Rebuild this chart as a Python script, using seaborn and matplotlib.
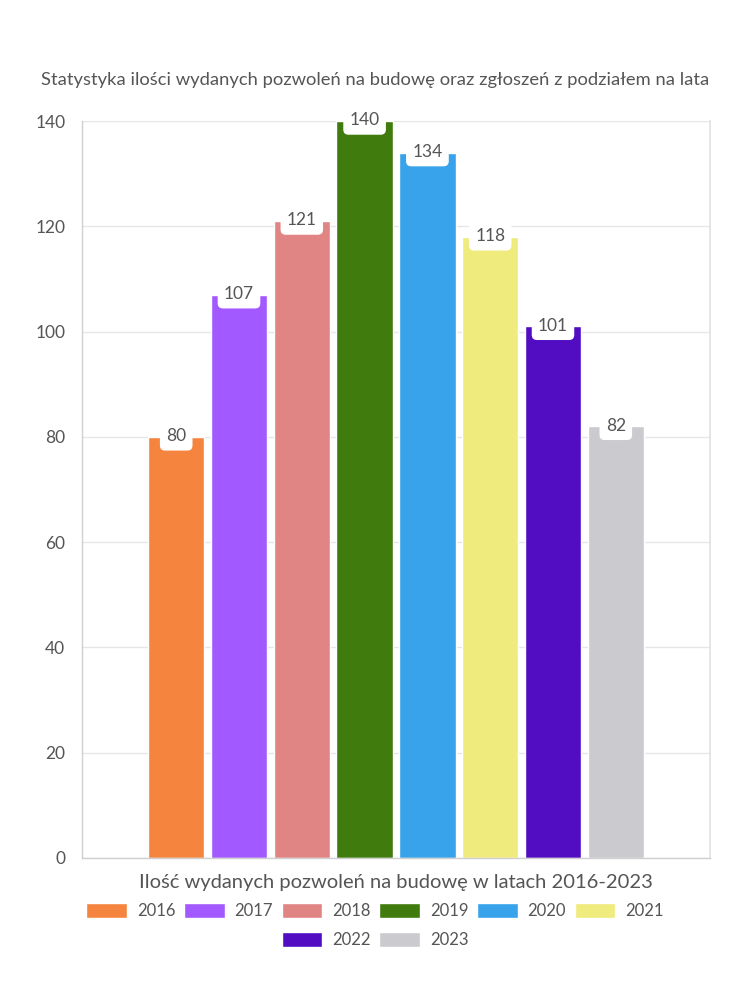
import matplotlib
matplotlib.use("Agg")
import matplotlib.pyplot as plt
import seaborn as sns
import pandas as pd

years = ["2016", "2017", "2018", "2019", "2020", "2021", "2022", "2023"]
values = [80, 107, 121, 140, 134, 118, 101, 82]
colors = ["#F5843F", "#A259FF", "#E08484", "#3F7C0D", "#38A3EB", "#F0EB7D", "#520DC2", "#CBCBCF"]
category = "Ilość wydanych pozwoleń na budowę w latach 2016-2023"
title = "Statystyka ilości wydanych pozwoleń na budowę oraz zgłoszeń z podziałem na lata"
yticks = [0, 20, 40, 60, 80, 100, 120, 140]

sns.set_theme(style="white")
plt.rcParams["font.family"] = ["Lato", "DejaVu Sans"]
TXT = "#555555"

df = pd.DataFrame({"cat": [category] * len(years), "year": years, "value": values})

fig = plt.figure(figsize=(7.5, 10), dpi=100)
ax = fig.add_axes([82 / 750, 1 - 858 / 1000, (710 - 82) / 750, (858 - 121) / 1000])

sns.barplot(data=df, x="cat", y="value", hue="year", hue_order=years,
            palette=dict(zip(years, colors)), width=0.8, gap=0.1,
            saturation=1, ax=ax, legend=True)

ax.set_ylim(0, 140)
ax.set_xlim(-0.5, 0.5)
ax.set_yticks(yticks)
ax.set_yticklabels([str(t) for t in yticks], fontsize=12.5, color=TXT)
ax.set_xticks([-0.5, 0.5])
ax.set_xticklabels(["", ""])
ax.tick_params(axis="y", length=8, color="#e3e3e3", width=1, pad=4)
ax.tick_params(axis="x", length=7, color="#e3e3e3", width=1)
ax.yaxis.grid(True, color="#e6e6e6", linewidth=1)
ax.set_axisbelow(True)
for side in ["left", "bottom"]:
    ax.spines[side].set_color("#cfcfcf")
    ax.spines[side].set_linewidth(1)
ax.spines["right"].set_color("#e3e3e3")
ax.spines["top"].set_visible(False)
ax.set_ylabel("")
ax.set_xlabel(category, fontsize=14.5, color=TXT, labelpad=1)

# value labels
for cont, v in zip(ax.containers, values):
    for bar in cont:
        x = bar.get_x() + bar.get_width() / 2
        ax.text(x, v + 0.1, str(v), ha="center", va="center", fontsize=12.5, color=TXT,
                bbox=dict(boxstyle="round,pad=0.36,rounding_size=0.3", fc="white", ec="none"),
                zorder=5)

handles, labels = ax.get_legend_handles_labels()
ax.get_legend().remove()

common = dict(frameon=False, fontsize=12, handlelength=2.45, handleheight=1.05,
              handletextpad=0.6, columnspacing=0.5, labelcolor=TXT, borderaxespad=0)
fig.legend(handles[:6], labels[:6], ncol=6, loc="center", bbox_to_anchor=(0.5, 1 - 911 / 1000), **common)
fig.legend(handles[6:], labels[6:], ncol=2, loc="center", bbox_to_anchor=(0.5, 1 - 940 / 1000), **common)

fig.text(0.5, 1 - 80 / 1000, title, ha="center", va="center", fontsize=13.2, color=TXT)

fig.savefig("out.png", dpi=100, facecolor="white")
